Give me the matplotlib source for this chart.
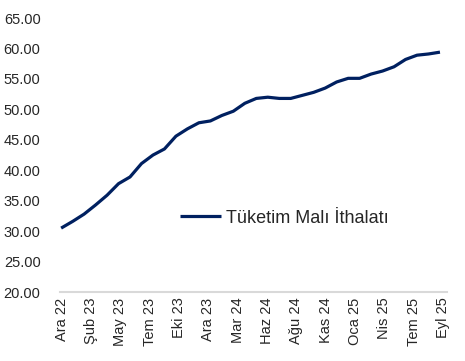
import matplotlib
matplotlib.use("Agg")
from matplotlib import pyplot as plt
import numpy as np

# Tüketim malı ithalatı, aylık (Ara 22 - Eyl 25)
values = [30.5, 31.6, 32.8, 34.3, 35.9, 37.8, 38.9, 41.1, 42.5, 43.5,
          45.6, 46.8, 47.8, 48.1, 49.0, 49.7, 51.0, 51.8, 52.0, 51.8,
          51.8, 52.3, 52.8, 53.5, 54.5, 55.1, 55.1, 55.8, 56.3, 57.0,
          58.2, 58.9, 59.1, 59.4]
tick_labels = ["Ara 22", "Şub 23", "May 23", "Tem 23", "Eki 23", "Ara 23",
               "Mar 24", "Haz 24", "Ağu 24", "Kas 24", "Oca 25", "Nis 25",
               "Tem 25", "Eyl 25"]
yticks = [20, 25, 30, 35, 40, 45, 50, 55, 60, 65]

plt.rcParams['font.family'] = ['Liberation Sans', 'DejaVu Sans']
text_color = "#262626"

fig = plt.figure(figsize=(4.65, 3.61), dpi=100)
ax = fig.add_axes([0.129, 0.191, 0.832, 0.759])

x = np.arange(len(values))
ax.plot(x, values, color="#002060", linewidth=2.3, label="Tüketim Malı İthalatı",
        solid_capstyle="butt")

ax.set_ylim(20, 65)
ax.set_xlim(-0.1, 33.6)
ax.set_yticks(yticks)
ax.set_yticklabels([f"{v:.2f}" for v in yticks], fontsize=10.5, color=text_color)
ax.set_xticks(np.linspace(0.05, 33.25, len(tick_labels)))
ax.set_xticklabels(tick_labels, rotation=90, fontsize=10.5, color=text_color)
ax.tick_params(axis="both", length=0)
ax.tick_params(axis="y", pad=14)
ax.tick_params(axis="x", pad=4)

for side in ["top", "right", "left"]:
    ax.spines[side].set_visible(False)
ax.spines["bottom"].set_color("#d9d9d9")
ax.spines["bottom"].set_linewidth(1.5)

leg = ax.legend(loc="center", bbox_to_anchor=(0.58, 0.27), frameon=False,
                fontsize=13, handlelength=2.3, handletextpad=0.28)
for t in leg.get_texts():
    t.set_color(text_color)

fig.savefig("out.png", dpi=100)
